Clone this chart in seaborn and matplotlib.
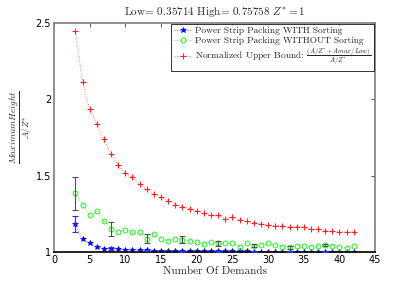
import numpy as np
import pandas as pd
import matplotlib
matplotlib.use('Agg')
import matplotlib.pyplot as plt
import seaborn as sns

demands = list(range(3, 43))
with_sorting = [1.183, 1.083, 1.057, 1.031, 1.022, 1.022, 1.018, 1.013, 1.013, 1.009,
                1.009, 1.007, 1.007, 1.005, 1.005, 1.005, 1.004, 1.004, 1.004, 1.003,
                1.003, 1.003, 1.003, 1.003, 1.003, 1.002, 1.002, 1.002, 1.002, 1.002,
                1.002, 1.002, 1.002, 1.002, 1.002, 1.002, 1.002, 1.002, 1.002, 1.002]
without_sorting = [1.384, 1.31, 1.24, 1.266, 1.2, 1.149, 1.127, 1.144, 1.127, 1.127,
                   1.087, 1.118, 1.087, 1.074, 1.087, 1.079, 1.074, 1.065, 1.05, 1.065,
                   1.055, 1.057, 1.057, 1.035, 1.057, 1.04, 1.044, 1.057, 1.044, 1.035,
                   1.031, 1.039, 1.039, 1.031, 1.039, 1.044, 1.039, 1.031, 1.026, 1.039]
upper_bound = [2.45, 2.115, 1.934, 1.838, 1.738, 1.642, 1.568, 1.515, 1.49, 1.445,
               1.41, 1.38, 1.358, 1.336, 1.31, 1.297, 1.28, 1.27, 1.253, 1.24,
               1.24, 1.218, 1.227, 1.21, 1.2, 1.188, 1.183, 1.179, 1.17, 1.17,
               1.162, 1.166, 1.162, 1.149, 1.149, 1.14, 1.136, 1.131, 1.131, 1.131]

# error bars every 5 demands
err_x = [3, 8, 13, 18, 23, 28, 33, 38]
err_with_lo = [1.127, 1.012, 1.004, 1.002, 1.001, 1.0, 1.0, 1.0]
err_with_hi = [1.236, 1.032, 1.014, 1.008, 1.006, 1.004, 1.004, 1.004]
err_without_lo = [1.275, 1.105, 1.055, 1.057, 1.039, 1.034, 1.022, 1.037]
err_without_hi = [1.493, 1.196, 1.115, 1.105, 1.07, 1.05, 1.04, 1.052]

xticks = [0, 5, 10, 15, 20, 25, 30, 35, 40, 45]
yticks = [1, 1.5, 2, 2.5]
ytick_labels = ['1', '1.5', '2', '2.5']

sns.set_style('white')
plt.rcParams['mathtext.fontset'] = 'cm'
plt.rcParams['font.family'] = ['DejaVu Sans']

df = pd.DataFrame({'n': demands, 'with': with_sorting,
                   'without': without_sorting, 'ub': upper_bound})

fig = plt.figure(figsize=(4.15, 2.83), dpi=100)
ax = fig.add_axes([0.130, 0.110, 0.774, 0.809])

serif = {'family': 'cmr10'}

sns.lineplot(data=df, x='n', y='with', ax=ax, color='#6666ff', linestyle=':',
             linewidth=0.7, marker='*', markersize=4, markeredgewidth=0.5,
             markerfacecolor='#0000ff', markeredgecolor='#0000ff',
             label='Power Strip Packing WITH Sorting')
sns.lineplot(data=df, x='n', y='without', ax=ax, color='#66ee66', linestyle=':',
             linewidth=0.7, marker='o', markersize=3.5, markerfacecolor='none',
             markeredgecolor='#22ee22', markeredgewidth=0.7,
             label='Power Strip Packing WITHOUT Sorting')
sns.lineplot(data=df, x='n', y='ub', ax=ax, color='#ff7777', linestyle=':',
             linewidth=0.7, marker='+', markersize=4.5, markeredgewidth=0.8,
             markeredgecolor='#ff2222',
             label=r'Normalized Upper Bound: $\frac{(A/Z^{*}+Amax/Low)}{A/Z^{*}}$')

wb = df.set_index('n').loc[err_x, 'with'].values
wob = df.set_index('n').loc[err_x, 'without'].values
ax.errorbar(err_x, wb, yerr=[wb - np.array(err_with_lo), np.array(err_with_hi) - wb],
            fmt='none', ecolor='#2233dd', elinewidth=0.8, capsize=2.5, capthick=0.8, zorder=4)
ax.errorbar(err_x, wob, yerr=[wob - np.array(err_without_lo), np.array(err_without_hi) - wob],
            fmt='none', ecolor='#4a554a', elinewidth=0.8, capsize=2.5, capthick=0.8, zorder=4)

ax.set_xlim(0, 45)
ax.set_ylim(1, 2.5)
ax.set_xticks(xticks)
ax.set_yticks(yticks)
ax.set_yticklabels(ytick_labels)
ax.tick_params(direction='in', length=3, width=0.6, labelsize=7, pad=2,
               top=True, right=True, colors='#333333')
ax.tick_params(labelcolor='black')

for side in ['left', 'right', 'top']:
    ax.spines[side].set_color('#888888')
    ax.spines[side].set_linewidth(1.3)
ax.spines['bottom'].set_color('#111111')
ax.spines['bottom'].set_linewidth(1.3)

ax.set_title(r'Low= 0.35714 High= 0.75758 $Z^{*}=1$', fontsize=8, pad=5, **serif)
ax.set_xlabel('Number Of Demands', fontsize=8, labelpad=1, **serif)
ax.set_ylabel(r'$\frac{MaximumHeight}{A/Z^{*}}$', fontsize=9.5, labelpad=0)
ax.yaxis.set_label_coords(-0.062, 0.546)

leg = ax.legend(loc='upper right', frameon=True, fancybox=False,
                borderaxespad=0.1, handlelength=1.9, handletextpad=0.4,
                borderpad=0.3, labelspacing=0.15, prop={'family': 'cmr10', 'size': 6.8})
leg.get_frame().set_edgecolor('black')
leg.get_frame().set_linewidth(0.7)

fig.savefig('out.png', dpi=100)
